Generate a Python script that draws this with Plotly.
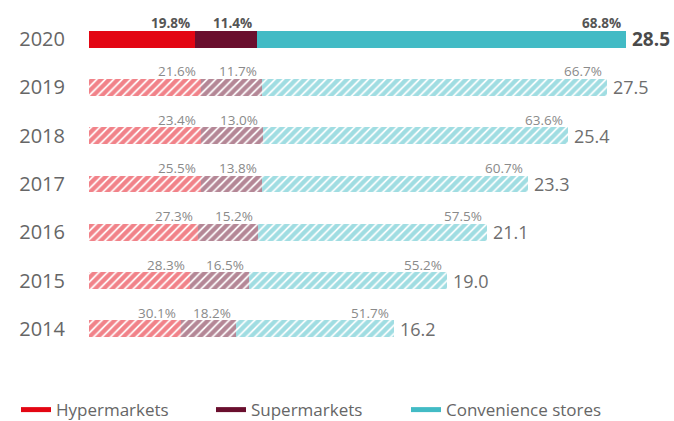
import plotly.graph_objects as go

years = ["2014", "2015", "2016", "2017", "2018", "2019", "2020"]
totals = [16.2, 19.0, 21.1, 23.3, 25.4, 27.5, 28.5]
hyper_pct = [30.1, 28.3, 27.3, 25.5, 23.4, 21.6, 19.8]
super_pct = [18.2, 16.5, 15.2, 13.8, 13.0, 11.7, 11.4]
conv_pct = [51.7, 55.2, 57.5, 60.7, 63.6, 66.7, 68.8]

series = [
    ("Hypermarkets", hyper_pct, "#E30613"),
    ("Supermarkets", super_pct, "#6A0F2E"),
    ("Convenience stores", conv_pct, "#42BBC5"),
]

FONT = "Open Sans"
shapes_pattern = ["/" if y != "2020" else "" for y in years]

fig = go.Figure()
cum = [0.0] * len(years)
annotations = []
for name, pct, color in series:
    vals = [p / 100 * t for p, t in zip(pct, totals)]
    fig.add_trace(go.Bar(
        y=years, x=vals, orientation="h", name=name, showlegend=False,
        marker=dict(color=color, line=dict(width=0),
                    pattern=dict(shape=shapes_pattern, size=6, solidity=0.7,
                                 fgcolor=color, bgcolor="white")),
        width=0.35, hoverinfo="skip",
    ))
    cum = [c + v for c, v in zip(cum, vals)]
    for i, (y, c, p) in enumerate(zip(years, cum, pct)):
        bold = y == "2020"
        annotations.append(dict(
            x=c, y=i, xref="x", yref="y", text=(f"<b>{p:.1f}%</b>" if bold else f"{p:.1f}%"),
            showarrow=False, xanchor="right", yanchor="bottom", xshift=-3, yshift=5,
            font=dict(family=FONT, size=13.5, color="#555555" if bold else "#8a8a8a"),
        ))

for i, (y, t) in enumerate(zip(years, totals)):
    bold = y == "2020"
    annotations.append(dict(
        x=t, y=i, xref="x", yref="y", text=(f"<b>{t:.1f}</b>" if bold else f"{t:.1f}"),
        showarrow=False, xanchor="left", yanchor="middle", xshift=4,
        font=dict(family=FONT, size=19 if bold else 18, color="#4a4a4a" if bold else "#6e6e6e"),
    ))

# legend-only traces on a hidden pair of axes
for name, pct, color in series:
    fig.add_trace(go.Scatter(x=[None], y=[None], mode="lines", name=name,
                             xaxis="x2", yaxis="y2",
                             line=dict(color=color, width=5), showlegend=True))

fig.update_layout(
    barmode="stack",
    width=674, height=421,
    margin=dict(l=89, r=0, t=15, b=68),
    paper_bgcolor="white", plot_bgcolor="white",
    font=dict(family=FONT, color="#666666"),
    xaxis=dict(range=[0, 31.05], showgrid=False, zeroline=False, showticklabels=False,
               fixedrange=True, automargin=False),
    yaxis=dict(type="category", categoryorder="array", categoryarray=years,
               range=[-0.5, 6.5], automargin=False,
               showgrid=False, zeroline=False, ticks="outside", ticklen=19,
               tickcolor="rgba(0,0,0,0)", tickfont=dict(family=FONT, size=20, color="#666666")),
    xaxis2=dict(overlaying="x", visible=False, range=[0, 1]),
    yaxis2=dict(overlaying="y", visible=False, range=[0, 1]),
    annotations=annotations,
    legend=dict(orientation="h", xref="container", x=0.0237, xanchor="left",
                yref="container", y=0.026, yanchor="middle",
                traceorder="normal",
                font=dict(family=FONT, size=17, color="#666666"), entrywidth=150,
                itemwidth=30),
)

fig.write_html("out.html", config={"displayModeBar": False},
               post_script="document.body.style.margin='0';")
